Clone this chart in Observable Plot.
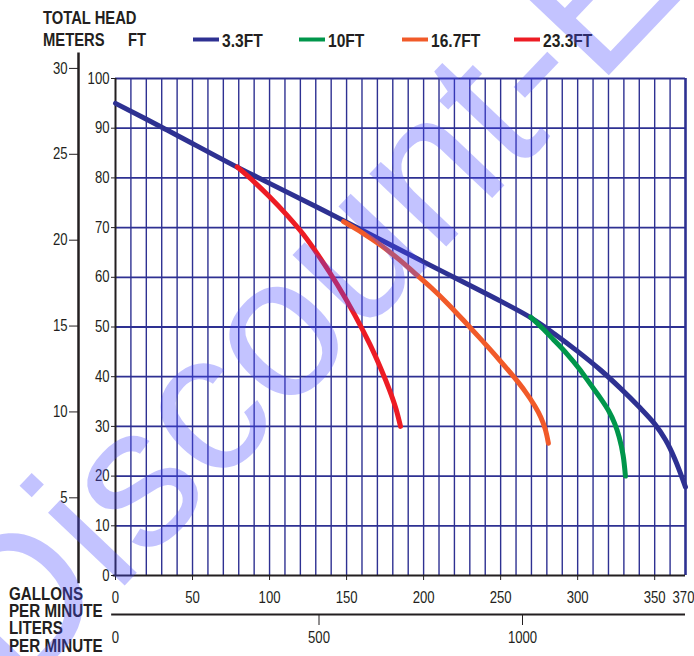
<!DOCTYPE html>
<html><head><meta charset="utf-8">
<script src="https://cdn.jsdelivr.net/npm/d3@7"></script>
<script src="https://cdn.jsdelivr.net/npm/@observablehq/plot@0.6"></script>
<style>
body{margin:0;background:#fff;}
#wrap{width:694px;height:656px;overflow:hidden;}
</style></head><body><div id="wrap"></div>
<script>
// ---- data ----
const series = ["3.3FT", "10FT", "16.7FT", "23.3FT"];
const colors = ["#2e3192", "#00964b", "#f15a29", "#ed1c24"];

const gpm33  = [0, 30, 80, 100, 150, 200, 250, 270, 285, 300, 315, 328, 340, 350, 357, 363, 370];
const ft33   = [95, 90.2, 82, 78.9, 71.1, 63.1, 55.2, 51.8, 48.6, 45.1, 41.3, 37.6, 33.9, 30.5, 27.3, 23.5, 17.8];

const gpm10  = [269.5, 277, 284.5, 293, 301, 308, 315, 320, 324, 327, 329.5, 331];
const ft10   = [52, 49.8, 47.4, 44.6, 41.6, 38.6, 35.6, 33.2, 30.6, 27.8, 24.2, 20];

const gpm167 = [148, 160, 172, 184, 194, 205, 215, 226, 237, 248, 259, 266, 272, 276, 279, 281];
const ft167  = [71.2, 69, 66.5, 63.6, 60.9, 57.9, 54.9, 51.3, 47.6, 43.8, 39.8, 37, 34.2, 31.9, 29.4, 26.6];

const gpm233 = [79, 90, 100, 111, 122, 133, 144, 155, 165, 172, 178, 182, 185];
const ft233  = [82.2, 79.2, 76.2, 72.6, 68.6, 63.8, 58.5, 52.6, 46.6, 41.8, 37.2, 33.6, 30];

// axes / ticks
const gpmTicks   = [0, 50, 100, 150, 200, 250, 300, 350];
const gpmEnd     = [370];
const ftTicks    = [0, 10, 20, 30, 40, 50, 60, 70, 80, 90, 100];
const meterTicks = [5, 10, 15, 20, 25, 30];
const literTicks = [0, 500, 1000];
const gridGpm    = [10,20,30,40,50,60,70,80,90,100,110,120,130,140,150,160,170,180,190,200,210,220,230,240,250,260,270,280,290,300,310,320,330,340,350,360];
const gridFt     = [10,20,30,40,50,60,70,80,90,100];

// the printed meters scale (as drawn in the reference, in ft units of the main scale)
const M_SLOPE = 3.456, M_OFF = -1.65;
const mToFt = m => m * M_SLOPE + M_OFF;
const LPG = 3.785; // liters per gallon
const lToG = l => l / LPG;

const NAVY = "#2e3192", INK = "#231f20";
const FONT = "'Liberation Sans',Arial,sans-serif";
const NARROW = 0.82; // the reference uses a condensed face

const toRows = (xs, ys, s) => xs.map((x, i) => ({gpm: x, ft: ys[i], s}));
const rows = [
  ...toRows(gpm33, ft33, series[0]),
  ...toRows(gpm233, ft233, series[3]),
  ...toRows(gpm167, ft167, series[2]),
  ...toRows(gpm10, ft10, series[1])
];

const chart = Plot.plot({
  width: 694, height: 656,
  marginLeft: 115, marginRight: 9, marginTop: 78, marginBottom: 81,
  style: {fontFamily: FONT, fontSize: "16px", color: INK, background: "white", overflow: "visible"},
  x: {domain: [0, 370], axis: null},
  y: {domain: [0, 100], axis: null},
  color: {domain: series, range: colors},
  marks: [
    Plot.ruleX(gridGpm, {stroke: NAVY, strokeWidth: 1.4}),
    Plot.ruleY(gridFt, {stroke: NAVY, strokeWidth: 1.8}),
    Plot.ruleX([370], {stroke: NAVY, strokeWidth: 2.6}),
    Plot.ruleX([0], {stroke: INK, strokeWidth: 2}),
    Plot.ruleY([0], {x1: -1.5, x2: 370, stroke: INK, strokeWidth: 2}),
    // ft axis
    Plot.axisY(ftTicks, {anchor: "left", label: null, tickSize: 4, tickPadding: 2, fontSize: 16, tickFormat: d => String(d)}),
    // meters axis
    Plot.ruleX([0], {y1: mToFt(0), y2: mToFt(30.9), dx: -37, stroke: INK, strokeWidth: 2.5}),
    Plot.axisY(meterTicks.map(mToFt), {anchor: "left", label: null, dx: -37, tickSize: 9, tickPadding: 2, fontSize: 16,
      tickFormat: d => String(Math.round((d - M_OFF) / M_SLOPE))}),
    // gallons axis
    Plot.axisX(gpmTicks, {anchor: "bottom", label: null, tickSize: 5, tickPadding: 11, fontSize: 16, tickFormat: d => String(d)}),
    Plot.axisX(gpmEnd, {anchor: "bottom", label: null, tickSize: 0, tickPadding: 16, dx: -2, fontSize: 16, tickFormat: d => String(d)}),
    // liters axis
    Plot.ruleY([0], {x1: -2.5, x2: 370, dy: 39, stroke: INK, strokeWidth: 2}),
    Plot.axisX(literTicks.slice(1).map(lToG), {anchor: "bottom", label: null, dy: 39, tickSize: 11, tickFormat: () => ""}),
    Plot.axisX(literTicks.map(lToG), {anchor: "bottom", label: null, dy: 39, tickSize: 0, tickPadding: 17, fontSize: 16,
      tickFormat: d => String(Math.round(d * LPG / 500) * 500)}),
    // curves
    Plot.line(rows, {x: "gpm", y: "ft", z: "s", stroke: "s", strokeWidth: 5, curve: "catmull-rom", strokeLinecap: "round"})
  ]
});

document.getElementById("wrap").appendChild(chart);
const svg = d3.select(chart);

// header
const hdr = svg.append("g").attr("font-family", FONT).attr("font-weight", "bold").attr("fill", INK).attr("text-anchor", "start");
hdr.append("text").attr("x", 43).attr("y", 24).attr("font-size", 18).text("TOTAL HEAD");
hdr.append("text").attr("x", 43).attr("y", 46).attr("font-size", 18).text("METERS");
hdr.append("text").attr("x", 128).attr("y", 46).attr("font-size", 18).text("FT");

// legend
const legX = [193, 299, 402, 514];
const leg = svg.append("g").attr("font-family", FONT).attr("font-weight", "bold").attr("fill", INK).attr("text-anchor", "start");
series.forEach((s, i) => {
  leg.append("line").attr("x1", legX[i]).attr("x2", legX[i] + 26).attr("y1", 39.5).attr("y2", 39.5)
    .attr("stroke", colors[i]).attr("stroke-width", 4);
  leg.append("text").attr("x", legX[i] + 29).attr("y", 47).attr("font-size", 19).text(s);
});

// bottom-left unit labels
const unitLines = ["GALLONS", "PER MINUTE", "LITERS", "PER MINUTE"];
const unitY = [599.5, 617, 634, 651.5];
const ul = svg.append("g").attr("font-family", FONT).attr("font-weight", "bold").attr("fill", INK).attr("text-anchor", "start");
unitLines.forEach((t, i) => ul.append("text").attr("x", 9).attr("y", unitY[i]).attr("font-size", 18.5).text(t));

// condense every text to the reference's narrow face
svg.selectAll("text").each(function () {
  const w = this.getComputedTextLength();
  if (w > 0) {
    this.setAttribute("textLength", (w * NARROW).toFixed(2));
    this.setAttribute("lengthAdjust", "spacingAndGlyphs");
  }
});

// watermark
svg.append("text")
  .attr("transform", "translate(16,700) rotate(-46.5)")
  .attr("text-anchor", "start")
  .attr("font-family", "'Liberation Sans',Arial,sans-serif")
  .attr("font-size", 200)
  .attr("fill", "#4848ff").attr("fill-opacity", 0.33)
  .text("Discount-Equipment");
</script></body></html>
